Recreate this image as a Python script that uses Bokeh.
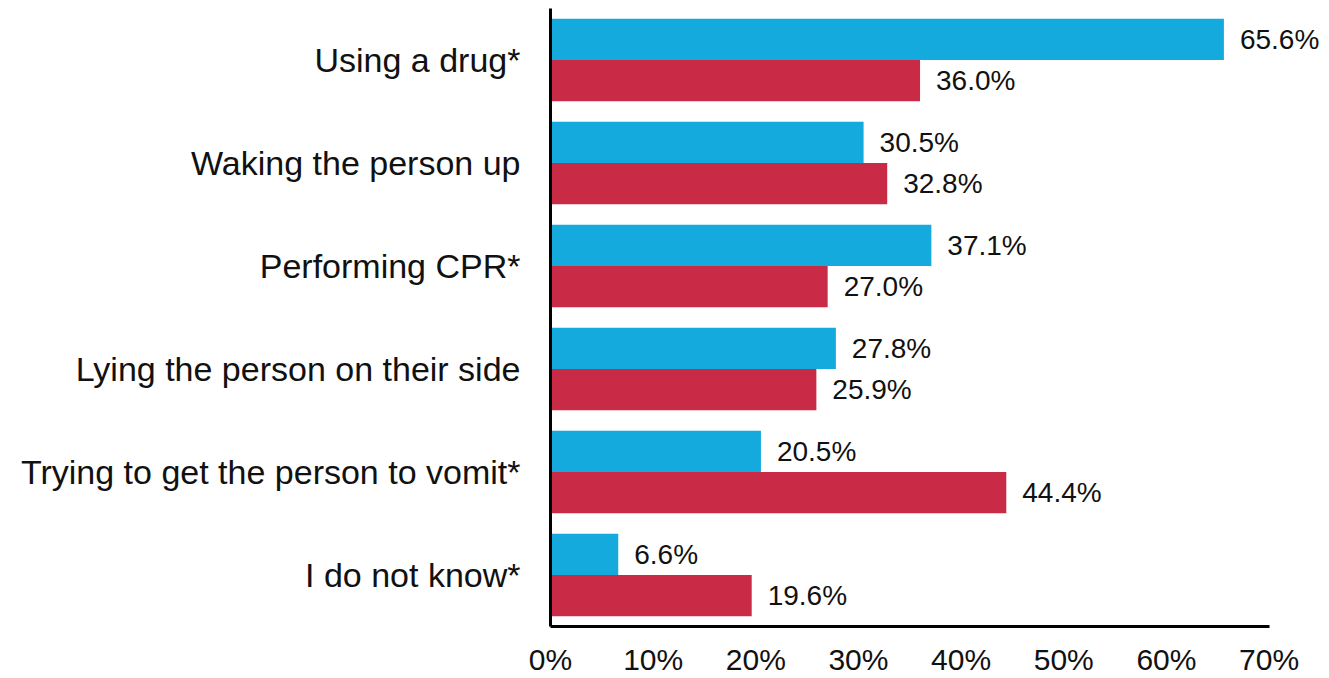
from bokeh.plotting import figure
from bokeh.models import ColumnDataSource, FactorRange, LabelSet, FixedTicker
from bokeh.transform import dodge
from bokeh.core.properties import value
from bokeh.embed import file_html
from bokeh.resources import INLINE

categories = ["Using a drug*", "Waking the person up", "Performing CPR*",
              "Lying the person on their side", "Trying to get the person to vomit*",
              "I do not know*"]
series_a = [65.6, 30.5, 37.1, 27.8, 20.5, 6.6]
series_b = [36.0, 32.8, 27.0, 25.9, 44.4, 19.6]
tick_values = [0, 10, 20, 30, 40, 50, 60, 70]
tick_labels = ["0%", "10%", "20%", "30%", "40%", "50%", "60%", "70%"]

BLUE = "#14AADD"
RED = "#C92B46"
FONT = "Liberation Sans"

src = ColumnDataSource(dict(
    cat=categories,
    a=series_a,
    b=series_b,
    a_txt=[f"{v:.1f}%" for v in series_a],
    b_txt=[f"{v:.1f}%" for v in series_b],
))

p = figure(width=1329, height=678, output_backend="svg", toolbar_location=None,
           y_range=FactorRange(factors=list(reversed(categories)), range_padding=0),
           x_range=(0, 75.4),
           min_border_left=550, min_border_right=5, min_border_top=8, min_border_bottom=51)

p.hbar(y=dodge("cat", 0.2, range=p.y_range), right="a", left=0, height=0.4,
       source=src, fill_color=BLUE, line_color=None)
p.hbar(y=dodge("cat", -0.2, range=p.y_range), right="b", left=0, height=0.4,
       source=src, fill_color=RED, line_color=None)

for col, txt, off in (("a", "a_txt", 0.2), ("b", "b_txt", -0.2)):
    p.add_layout(LabelSet(x=col, y=dodge("cat", off, range=p.y_range), text=txt,
                          source=src, x_offset=16, text_baseline="middle",
                          text_font=value(FONT), text_font_size=value("28px"),
                          text_color="#111111"))

p.outline_line_color = None
p.grid.visible = False
p.background_fill_color = "white"

p.xaxis.ticker = FixedTicker(ticks=tick_values)
p.xaxis.bounds = (tick_values[0], tick_values[-1])
p.xaxis.major_label_overrides = {v: l for v, l in zip(tick_values, tick_labels)}
p.xaxis.major_label_text_font = FONT
p.xaxis.major_label_text_font_size = "30px"
p.xaxis.major_label_text_color = "#111111"
p.xaxis.major_label_standoff = 16
p.yaxis.major_label_text_font = FONT
p.yaxis.major_label_text_font_size = "34px"
p.yaxis.major_label_text_color = "#111111"
p.yaxis.major_label_standoff = 30

for ax in (p.xaxis, p.yaxis):
    ax.axis_line_color = "black"
    ax.axis_line_width = 3
    ax.major_tick_line_color = None
    ax.minor_tick_line_color = None
    ax.major_tick_out = 0
    ax.major_tick_in = 0

open("out.html", "w").write(file_html(p, INLINE))
